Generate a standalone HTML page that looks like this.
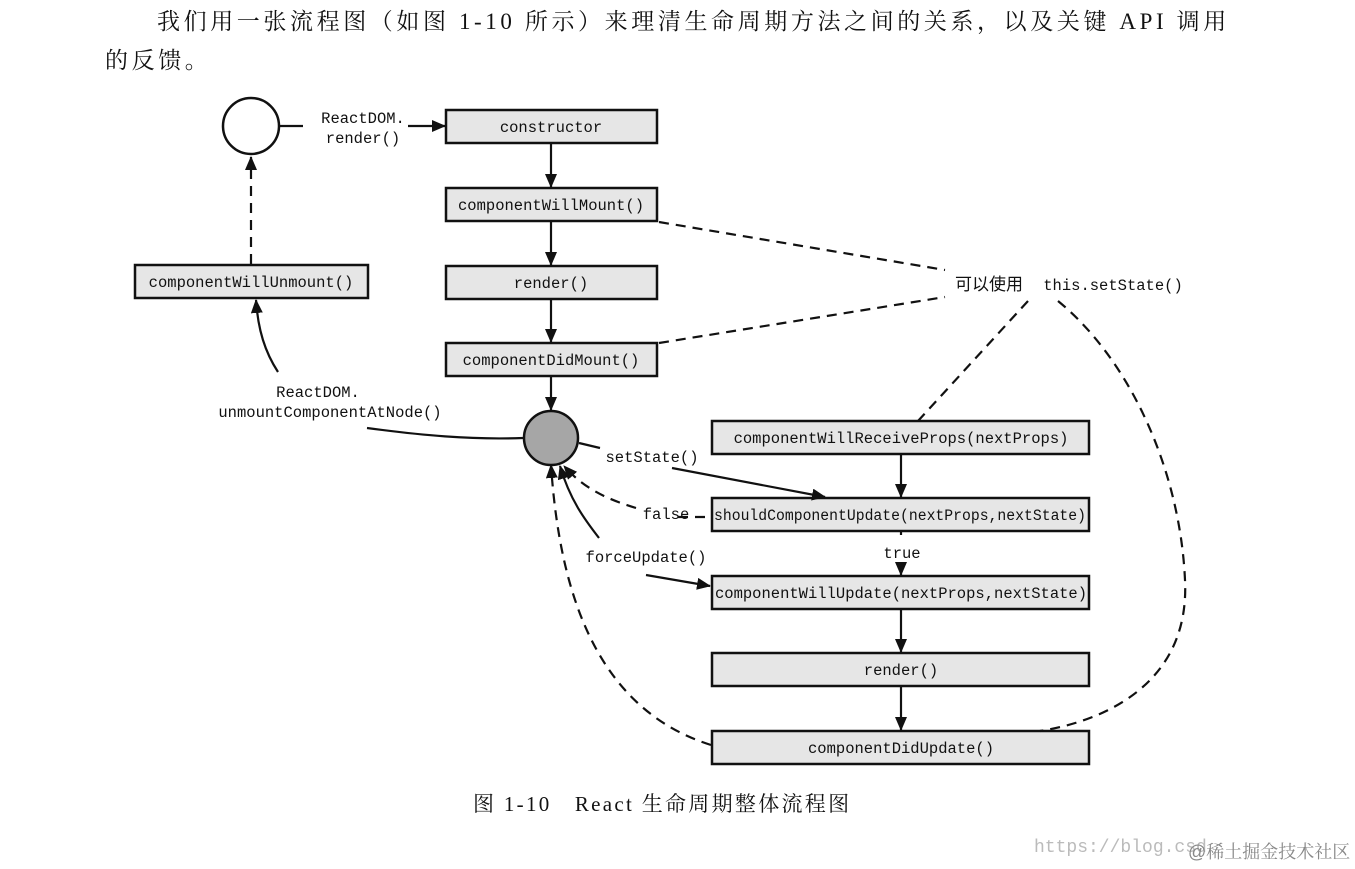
<!DOCTYPE html>
<html><head><meta charset="utf-8">
<style>
html,body{margin:0;padding:0;background:#fff;}
body{width:1355px;height:869px;position:relative;overflow:hidden;}
.p{position:absolute;font-family:"Liberation Serif","Noto Serif CJK SC",serif;font-size:22px;color:#111;white-space:nowrap;}
svg{position:absolute;left:0;top:0;}
.m{font-family:"Liberation Mono","DejaVu Sans Mono",monospace;font-size:15.5px;fill:#111;}
</style></head><body>
<div class="p" style="left:157px;top:3px;font-size:23px;letter-spacing:3.6px;">我们用一张流程图（如图 1-10 所示）来理清生命周期方法之间的关系，以及关键 API 调用</div>
<div class="p" style="left:105px;top:42px;font-size:23px;letter-spacing:3.6px;">的反馈。</div>
<div class="p" style="left:473px;top:788px;font-size:21px;letter-spacing:2.3px;">图 1-10　React 生命周期整体流程图</div>
<div class="p" style="left:1034px;top:838px;font-size:18px;color:#bbb;font-family:'Liberation Mono','Noto Sans CJK SC',monospace;">https://blog.csd</div>
<div class="p" style="left:1188px;top:838px;font-size:18px;color:#888;font-family:'Liberation Sans','Noto Serif CJK SC',sans-serif;">@稀土掘金技术社区</div>
<svg width="1355" height="869" viewBox="0 0 1355 869">
<defs>
<marker id="a" markerWidth="14" markerHeight="12" refX="13" refY="6" orient="auto" markerUnits="userSpaceOnUse">
<path d="M0,0 L14,6 L0,12 Z" fill="#111"/></marker>
</defs>
<g stroke="#111" stroke-width="2.5" fill="#e6e6e6">
<rect x="446" y="110" width="211" height="33"/>
<rect x="446" y="188" width="211" height="33"/>
<rect x="446" y="266" width="211" height="33"/>
<rect x="446" y="343" width="211" height="33"/>
<rect x="135" y="265" width="233" height="33"/>
<rect x="712" y="421" width="377" height="33"/>
<rect x="712" y="498" width="377" height="33"/>
<rect x="712" y="576" width="377" height="33"/>
<rect x="712" y="653" width="377" height="33"/>
<rect x="712" y="731" width="377" height="33"/>
</g>
<circle cx="251" cy="126" r="28" fill="#fff" stroke="#111" stroke-width="2.5"/>
<circle cx="551" cy="438" r="27" fill="#a6a6a6" stroke="#111" stroke-width="2.5"/>
<g stroke="#111" stroke-width="2.2" fill="none">
<line x1="280" y1="126" x2="303" y2="126"/>
<line x1="408" y1="126" x2="445" y2="126" marker-end="url(#a)"/>
<line x1="551" y1="143" x2="551" y2="187" marker-end="url(#a)"/>
<line x1="551" y1="221" x2="551" y2="265" marker-end="url(#a)"/>
<line x1="551" y1="299" x2="551" y2="342" marker-end="url(#a)"/>
<line x1="551" y1="376" x2="551" y2="410" marker-end="url(#a)"/>
<line x1="901" y1="454" x2="901" y2="497" marker-end="url(#a)"/>
<line x1="901" y1="609" x2="901" y2="652" marker-end="url(#a)"/>
<line x1="901" y1="686" x2="901" y2="730" marker-end="url(#a)"/>
<line x1="901" y1="531" x2="901" y2="535"/>
<line x1="901" y1="571" x2="901" y2="575" marker-end="url(#a)"/>
<path d="M523,438 C470,440 420,435 367,428"/>
<path d="M278,372 C265,352 258,330 256,300" marker-end="url(#a)"/>
<path d="M579,443 L600,448"/>
<path d="M672,468 L825,497" marker-end="url(#a)"/>
<path d="M599,538 C585,520 570,500 560,466" marker-end="url(#a)"/>
<path d="M646,575 L710,586" marker-end="url(#a)"/>
</g>
<g stroke="#111" stroke-width="2.2" fill="none" stroke-dasharray="10,7">
<line x1="251" y1="264" x2="251" y2="157" marker-end="url(#a)"/>
<path d="M659,222 L945,270"/>
<path d="M659,343 L945,297"/>
<path d="M1028,301 L918,421"/>
<path d="M1058,301 C1130,360 1180,470 1185,580 C1190,680 1110,720 1040,731"/>
<path d="M711,745 C600,710 560,600 551,465" marker-end="url(#a)"/>
<path d="M636,508 C610,500 585,490 564,466" marker-end="url(#a)"/>
<line x1="678" y1="517" x2="711" y2="517"/>
</g>
<g class="m" text-anchor="middle">
<text x="551" y="132">constructor</text>
<text x="551" y="210">componentWillMount()</text>
<text x="551" y="288">render()</text>
<text x="551" y="365">componentDidMount()</text>
<text x="251" y="287">componentWillUnmount()</text>
<text x="901" y="443">componentWillReceiveProps(nextProps)</text>
<text x="900" y="520" textLength="372" lengthAdjust="spacingAndGlyphs">shouldComponentUpdate(nextProps,nextState)</text>
<text x="901" y="598">componentWillUpdate(nextProps,nextState)</text>
<text x="901" y="675">render()</text>
<text x="901" y="753">componentDidUpdate()</text>
<text x="363" y="123">ReactDOM.</text>
<text x="363" y="143">render()</text>
<text x="318" y="397">ReactDOM.</text>
<text x="330" y="417">unmountComponentAtNode()</text>
<text x="652" y="462">setState()</text>
<text x="666" y="519">false</text>
<text x="646" y="562">forceUpdate()</text>
<text x="902" y="558">true</text>
<text x="1113" y="290">this.setState()</text>
</g>
<text x="955" y="290" style="font-family:'Liberation Sans','Noto Sans CJK SC',sans-serif;font-size:17px;fill:#111;">可以使用</text>
</svg>
</body></html>
